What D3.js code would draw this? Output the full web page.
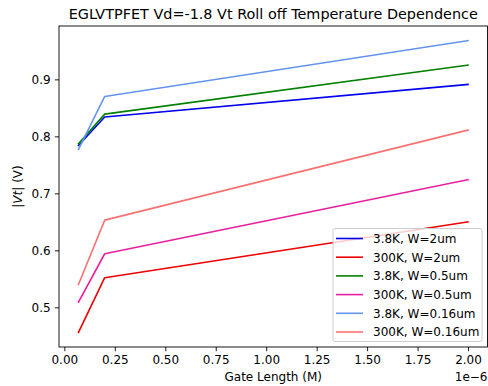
<!DOCTYPE html>
<html>
<head>
<meta charset="utf-8">
<script src="https://cdn.jsdelivr.net/npm/d3@7"></script>
<style>
  html, body { margin: 0; padding: 0; background: #fff; }
  text { font-family: "DejaVu Sans", sans-serif; }
</style>
</head>
<body>
<div id="chart"></div>
<script>
// gate length in metres
const gateLength = [0.07e-6, 0.2e-6, 2.0e-6];

// |Vt| in volts
const vt38K_2um = [0.784, 0.834, 0.891];
const vt300K_2um = [0.456, 0.552, 0.650];
const vt38K_05um = [0.787, 0.839, 0.925];
const vt300K_05um = [0.509, 0.594, 0.724];
const vt38K_016um = [0.777, 0.870, 0.968];
const vt300K_016um = [0.540, 0.653, 0.811];

const seriesLabels = ["3.8K, W=2um", "300K, W=2um", "3.8K, W=0.5um", "300K, W=0.5um", "3.8K, W=0.16um", "300K, W=0.16um"];
const seriesValues = [vt38K_2um, vt300K_2um, vt38K_05um, vt300K_05um, vt38K_016um, vt300K_016um];
const seriesColors = ["#0000ee", "#ee0000", "#008000", "#e8209f", "#6495ed", "#f87272"];

const xTicks = [0, 0.25, 0.5, 0.75, 1.0, 1.25, 1.5, 1.75, 2.0];
const yTicks = [0.5, 0.6, 0.7, 0.8, 0.9];

const width = 488, height = 386;
const frame = { left: 59, right: 487.5, top: 26, bottom: 347 };

function padded(ext) {
    const d = (ext[1] - ext[0]) * 0.05;
    return [ext[0] - d, ext[1] + d];
}

const x = d3.scaleLinear()
    .domain(padded(d3.extent(gateLength)))
    .range([frame.left, frame.right]);

const allVt = seriesValues.flat();
const y = d3.scaleLinear()
    .domain(padded(d3.extent(allVt)))
    .range([frame.bottom, frame.top]);

const svg = d3.select("#chart").append("svg")
    .attr("width", width)
    .attr("height", height)
    .style("display", "block");

svg.append("rect").attr("width", width).attr("height", height).attr("fill", "#fff");

// Lines
const line = d3.line()
    .x((d, i) => x(gateLength[i]))
    .y(d => y(d));

svg.append("defs").append("clipPath").attr("id", "clip")
    .append("rect")
    .attr("x", frame.left).attr("y", frame.top)
    .attr("width", frame.right - frame.left).attr("height", frame.bottom - frame.top);

const plot = svg.append("g").attr("clip-path", "url(#clip)");
seriesValues.forEach((vals, k) => {
    plot.append("path")
        .datum(vals)
        .attr("fill", "none")
        .attr("stroke", seriesColors[k])
        .attr("stroke-width", 1.6)
        .attr("stroke-linejoin", "round")
        .attr("stroke-linecap", "square")
        .attr("d", line);
});

// Axes
const xAxis = svg.append("g")
    .attr("transform", `translate(0,${frame.bottom})`)
    .call(d3.axisBottom(x)
        .tickValues(xTicks.map(t => t * 1e-6))
        .tickFormat(t => d3.format(".2f")(t / 1e-6))
        .tickSize(4.2)
        .tickPadding(4.2));

const yAxis = svg.append("g")
    .attr("transform", `translate(${frame.left},0)`)
    .call(d3.axisLeft(y)
        .tickValues(yTicks)
        .tickFormat(d3.format(".1f"))
        .tickSize(4.2)
        .tickPadding(4.2));

[xAxis, yAxis].forEach(a => {
    a.select(".domain").remove();
    a.selectAll(".tick line").attr("stroke", "#000").attr("stroke-width", 0.9);
    a.selectAll(".tick text")
        .attr("fill", "#000")
        .attr("font-size", "12px")
        .attr("font-family", "DejaVu Sans");
});

// Spines
svg.append("rect")
    .attr("x", frame.left).attr("y", frame.top)
    .attr("width", frame.right - frame.left).attr("height", frame.bottom - frame.top)
    .attr("fill", "none")
    .attr("stroke", "#000")
    .attr("stroke-width", 0.9);

// Title
svg.append("text")
    .attr("x", (frame.left + frame.right) / 2)
    .attr("y", 18.5)
    .attr("text-anchor", "middle")
    .attr("font-size", "14.4px")
    .attr("fill", "#000")
    .text("EGLVTPFET Vd=-1.8 Vt Roll off Temperature Dependence");

// Axis labels
svg.append("text")
    .attr("x", (frame.left + frame.right) / 2)
    .attr("y", 381)
    .attr("text-anchor", "middle")
    .attr("font-size", "12px")
    .attr("fill", "#000")
    .text("Gate Length (M)");

svg.append("text")
    .attr("x", frame.right)
    .attr("y", 381)
    .attr("text-anchor", "end")
    .attr("font-size", "12px")
    .attr("fill", "#000")
    .text("1e\u22126");

const yLab = svg.append("text")
    .attr("transform", `translate(22,${(frame.top + frame.bottom) / 2}) rotate(-90)`)
    .attr("text-anchor", "middle")
    .attr("font-size", "12px")
    .attr("fill", "#000");
yLab.append("tspan").attr("font-style", "italic").text("|Vt|");
yLab.append("tspan").text(" (V)");

// Legend
const legend = svg.append("g").attr("transform", "translate(333,228.5)");
legend.append("rect")
    .attr("width", 149)
    .attr("height", 113)
    .attr("rx", 2)
    .attr("fill", "#fff")
    .attr("fill-opacity", 0.8)
    .attr("stroke", "#ccc")
    .attr("stroke-width", 1);

seriesLabels.forEach((lab, k) => {
    const ry = 10 + k * 18.7;
    legend.append("line")
        .attr("x1", 3).attr("x2", 30)
        .attr("y1", ry).attr("y2", ry)
        .attr("stroke", seriesColors[k])
        .attr("stroke-width", 1.6);
    legend.append("text")
        .attr("x", 40)
        .attr("y", ry + 4.3)
        .attr("font-size", "12px")
        .attr("fill", "#000")
        .text(lab);
});
</script>
</body>
</html>
